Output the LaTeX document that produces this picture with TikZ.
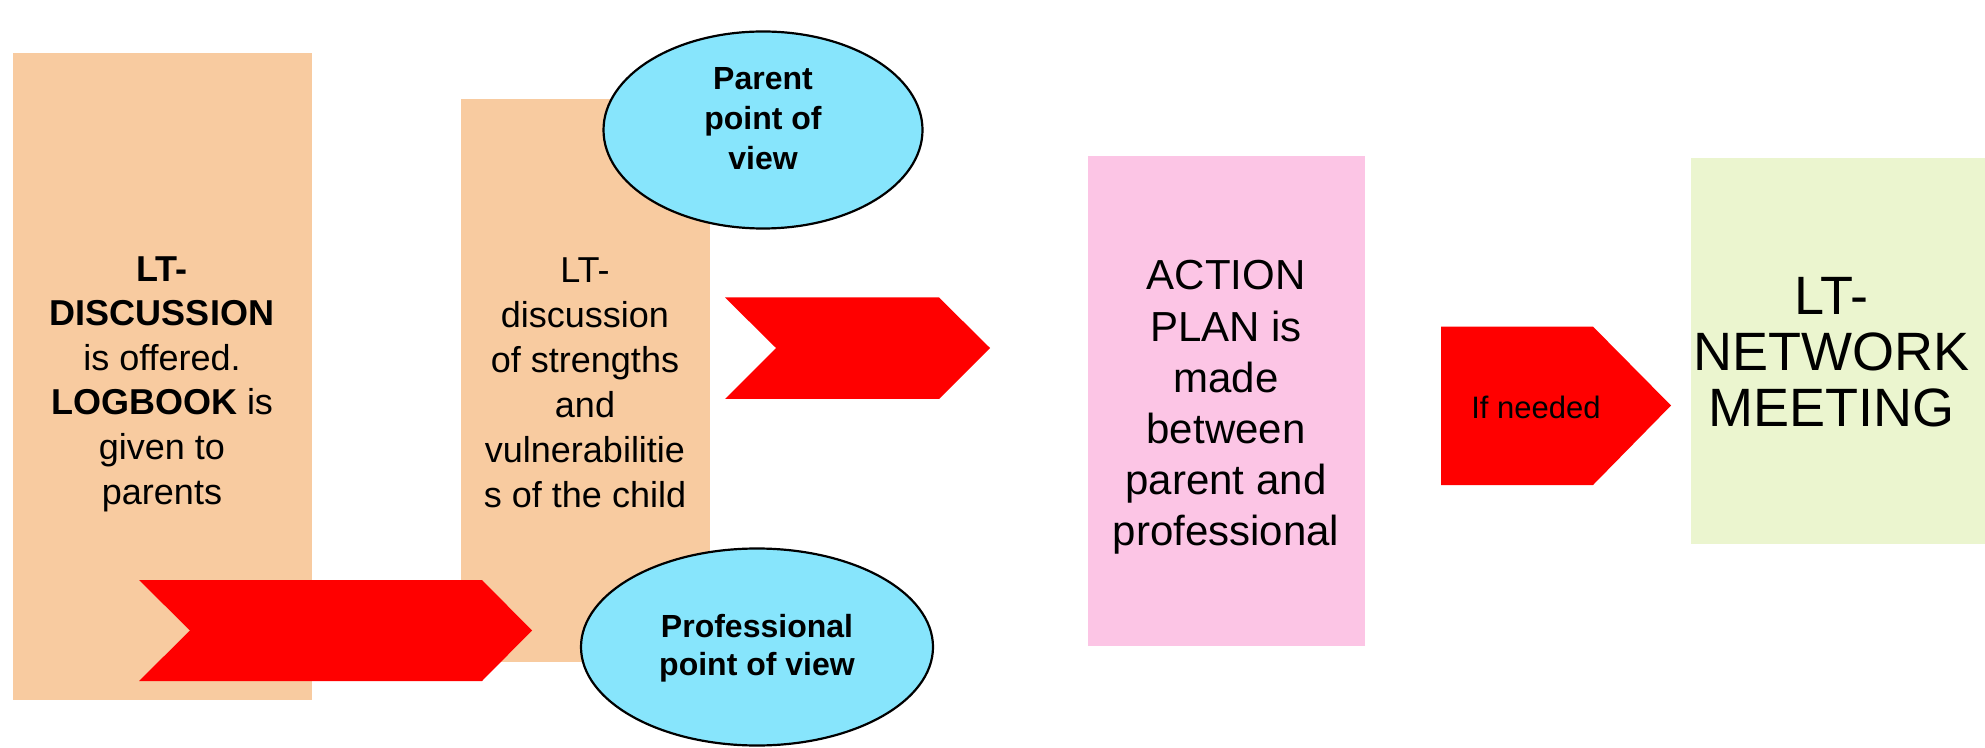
\documentclass[tikz,border=0pt]{standalone}
\usepackage{fontspec}
\setmainfont{Liberation Sans}
\usetikzlibrary{shapes.geometric}
\definecolor{peach}{HTML}{F8CBA0}
\definecolor{skyc}{HTML}{87E5FC}
\definecolor{pinkc}{HTML}{FCC5E5}
\definecolor{greenc}{HTML}{EBF5CF}
\definecolor{redc}{HTML}{FF0000}
\tikzset{
  box/.style={fill=#1, draw=none, inner sep=0pt, anchor=north west},
  txt/.style={align=center, inner sep=0pt, text=black},
  bubble/.style={ellipse, fill=skyc, draw=black, line width=1.1pt, inner sep=0pt},
  redshape/.style={fill=redc, draw=none}
}
\begin{document}
\begin{tikzpicture}[x=0.5pt,y=-0.5pt]
\useasboundingbox (0,0) rectangle (1985,748);
% boxes
\node[box=peach, minimum width=298.5pt*0.5, minimum height=647pt*0.5] (b1) at (13,53) {};
\node[box=peach, minimum width=249pt*0.5, minimum height=563pt*0.5] (b2) at (461,99) {};
\node[box=pinkc, minimum width=277.5pt*0.5, minimum height=490pt*0.5] (b3) at (1087.5,156) {};
\node[box=greenc, minimum width=300pt*0.5, minimum height=386pt*0.5] (b4) at (1691,158) {};
% texts in boxes
\node[txt, font=\fontsize{18}{22.3}\selectfont] (t1) at (162,384)
  {\textbf{LT-}\\\textbf{DISCUSSION}\\is offered.\\\textbf{LOGBOOK} is\\given to\\parents};
\node[txt, font=\fontsize{18}{22.5}\selectfont] (t2) at (585,383)
  {LT-\\discussion\\of strengths\\and\\vulnerabilitie\\s of the child};
\node[txt, font=\fontsize{21}{25.6}\selectfont] (t3) at (1226,407.5)
  {ACTION\\PLAN is\\made\\between\\parent and\\professional};
\node[txt, font=\fontsize{27}{28}\selectfont] (t4) at (1831,352)
  {LT-\\NETWORK\\MEETING};
% chevron arrows
\coordinate (a1) at (139,580);
\fill[redshape] (a1) -- (482,580) -- (532,630.5) -- (482,681) -- (139,681) -- (190,630.5) -- cycle;
\coordinate (a2) at (725,297.5);
\fill[redshape] (a2) -- (939,297.5) -- (990,348) -- (939,399) -- (725,399) -- (776,348) -- cycle;
\coordinate (a3) at (1441,326.6);
\fill[redshape] (a3) -- (1593,326.6) -- (1671,405.5) -- (1593,485) -- (1441,485) -- cycle;
\node[txt, font=\fontsize{15.5}{18}\selectfont] (t5) at (1536,407) {If needed};
% ellipses
\node[bubble, minimum width=319pt*0.5, minimum height=197pt*0.5] (e1) at (763,130) {};
\node[txt, font=\bfseries\fontsize{16}{20}\selectfont] at (763,119) {Parent\\point of\\view};
\node[bubble, minimum width=352pt*0.5, minimum height=197pt*0.5] (e2) at (757,647) {};
\node[txt, font=\bfseries\fontsize{16}{19}\selectfont] at (757,648) {Professional\\point of view};
\end{tikzpicture}
\end{document}
